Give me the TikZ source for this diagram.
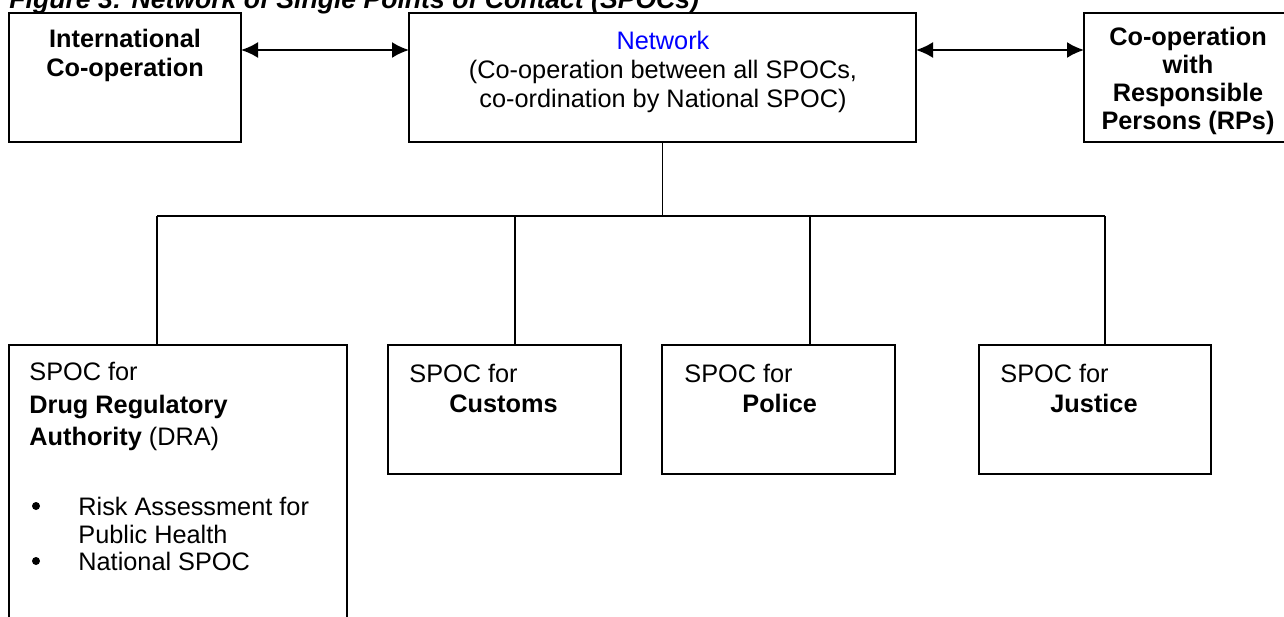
\documentclass[tikz,border=0pt]{standalone}
\usepackage{fontspec}
\setmainfont{Liberation Sans}
\usetikzlibrary{arrows.meta}
\begin{document}
\begin{tikzpicture}[x=0.5pt,y=-0.5pt,
  box/.style={draw, line width=0.8pt, inner sep=0pt, outer sep=0pt},
  tx/.style={inner sep=0pt, font=\fontsize{12.65}{14.5}\selectfont},
  bx/.style={inner sep=0pt, font=\fontsize{12.65}{14.5}\selectfont\bfseries},
  dot/.style={circle, fill, inner sep=0pt, minimum size=4pt},
  conn/.style={line width=0.8pt},
  arr/.style={line width=1pt, {Latex[length=8.5pt,width=8pt]}-{Latex[length=8.5pt,width=8pt]}}]
\useasboundingbox (0,0) rectangle (1284,616);
\clip (0,0) rectangle (1284,616);
% title (cut off at the top, as in the source)
\node[inner sep=0pt, anchor=base west, font=\fontsize{13.3}{15}\selectfont\bfseries\itshape] (title) at (9,8) {Figure 3: Network of Single Points of Contact (SPOCs)};
% top row boxes
\node[box, minimum width=116pt, minimum height=64.5pt] (intl) at (125,77.5) {};
\node[box, minimum width=253.5pt, minimum height=64.5pt] (net) at (662.5,77.5) {};
\node[box, minimum width=110pt, minimum height=64.5pt] (rps) at (1194,77.5) {};
% bottom row boxes
\node[box, minimum width=169pt, minimum height=147.5pt] (dra) at (178,492.5) {};
\node[box, minimum width=116.5pt, minimum height=64.5pt] (cus) at (504.5,409.5) {};
\node[box, minimum width=116.5pt, minimum height=64.5pt] (pol) at (778.5,409.5) {};
\node[box, minimum width=116pt, minimum height=64.5pt] (jus) at (1095,409.5) {};
% texts top row
\node[bx, anchor=base] (intl1) at (125,47) {International};
\node[bx, anchor=base] (intl2) at (125,76) {Co-operation};
\node[tx, anchor=base, text=blue] (net1) at (663,49) {Network};
\node[tx, anchor=base] (net2) at (663,78) {(Co-operation between all SPOCs,};
\node[tx, anchor=base] (net3) at (663,107) {co-ordination by National SPOC)};
\node[bx, anchor=base] (rps1) at (1188,45) {Co-operation};
\node[bx, anchor=base] (rps2) at (1188,73) {with};
\node[bx, anchor=base] (rps3) at (1188,101) {Responsible};
\node[bx, anchor=base] (rps4) at (1188,129) {Persons (RPs)};
% texts bottom row
\node[tx, anchor=base west] (dra1) at (29,380) {SPOC for};
\node[bx, anchor=base west] (dra2) at (29,413) {Drug Regulatory};
\node[tx, anchor=base west] (dra3) at (29,445) {\textbf{Authority} (DRA)};
\node[dot] (dot1) at (36,506) {};
\node[tx, anchor=base west] (dra4) at (78,515) {Risk Assessment for};
\node[tx, anchor=base west] (dra5) at (78,543) {Public Health};
\node[dot] (dot2) at (36,561) {};
\node[tx, anchor=base west] (dra6) at (78,570) {National SPOC};
\node[tx, anchor=base west] (cus1) at (409,382) {SPOC for};
\node[bx, anchor=base west] (cus2) at (449,412) {Customs};
\node[tx, anchor=base west] (pol1) at (684,382) {SPOC for};
\node[bx, anchor=base west] (pol2) at (742,412) {Police};
\node[tx, anchor=base west] (jus1) at (1000,382) {SPOC for};
\node[bx, anchor=base west] (jus2) at (1050,412) {Justice};
% arrows
\coordinate (ay) at (0,50);
\draw[arr] (intl.east |- ay) -- (net.west |- ay);
\draw[arr] (net.east |- ay) -- (rps.west |- ay);
% tree connectors
\coordinate (b1) at (157,216);
\coordinate (b2) at (515,216);
\coordinate (b3) at (810,216);
\coordinate (b4) at (1105,216);
\draw[conn] (net.south) -- (net.south |- b1);
\draw[conn] (b1) -- (b4);
\draw[conn] (b1) -- (b1 |- dra.north);
\draw[conn] (b2) -- (b2 |- cus.north);
\draw[conn] (b3) -- (b3 |- pol.north);
\draw[conn] (b4) -- (b4 |- jus.north);
\end{tikzpicture}
\end{document}
